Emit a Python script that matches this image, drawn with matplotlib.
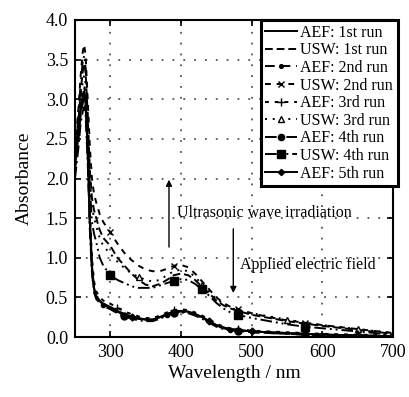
import matplotlib
matplotlib.use("Agg")
import matplotlib.pyplot as plt

plt.rcParams['font.family'] = ['Liberation Serif', 'DejaVu Serif']

wl = [250, 255, 258, 261, 263, 265, 268, 271, 274, 277, 280, 285, 290, 300, 310, 320, 330, 340,
      350, 360, 370, 380, 390, 400, 410, 420, 430, 440, 450, 460, 470, 480, 500, 525, 550, 575,
      600, 650, 700]

aef1 = [2.2, 2.6, 2.9, 3.05, 3.1, 3.0, 2.4, 1.5, 0.9, 0.62, 0.52, 0.46, 0.42, 0.38, 0.33, 0.29, 0.26, 0.24,
        0.22, 0.22, 0.25, 0.29, 0.32, 0.33, 0.32, 0.29, 0.25, 0.20, 0.15, 0.12, 0.10, 0.09, 0.07, 0.06, 0.05, 0.04,
        0.03, 0.02, 0.01]
usw1 = [2.3, 2.75, 3.1, 3.35, 3.45, 3.35, 2.8, 2.1, 1.75, 1.6, 1.5, 1.35, 1.25, 1.15, 1.0, 0.9, 0.8, 0.72,
        0.66, 0.64, 0.67, 0.72, 0.78, 0.80, 0.78, 0.72, 0.63, 0.55, 0.46, 0.40, 0.36, 0.33, 0.28, 0.24, 0.20, 0.17,
        0.14, 0.09, 0.04]
aef2 = [2.1, 2.5, 2.8, 2.95, 3.0, 2.9, 2.3, 1.4, 0.85, 0.6, 0.5, 0.45, 0.41, 0.37, 0.32, 0.28, 0.25, 0.23,
        0.21, 0.21, 0.24, 0.28, 0.31, 0.32, 0.31, 0.28, 0.24, 0.19, 0.14, 0.11, 0.09, 0.08, 0.06, 0.05, 0.04, 0.03,
        0.03, 0.02, 0.01]
usw2 = [2.4, 2.9, 3.3, 3.6, 3.69, 3.55, 3.0, 2.4, 2.0, 1.8, 1.7, 1.55, 1.45, 1.32, 1.18, 1.06, 0.97, 0.90,
        0.85, 0.83, 0.83, 0.86, 0.90, 0.91, 0.88, 0.80, 0.70, 0.60, 0.50, 0.43, 0.38, 0.35, 0.30, 0.25, 0.21, 0.18,
        0.15, 0.10, 0.05]
aef3 = [2.3, 2.7, 3.0, 3.12, 3.15, 3.05, 2.5, 1.6, 1.0, 0.7, 0.58, 0.5, 0.46, 0.42, 0.37, 0.32, 0.29, 0.26,
        0.24, 0.24, 0.27, 0.31, 0.34, 0.35, 0.34, 0.31, 0.27, 0.22, 0.17, 0.13, 0.11, 0.10, 0.08, 0.07, 0.06, 0.05,
        0.04, 0.03, 0.02]
usw3 = [2.2, 2.65, 3.0, 3.22, 3.3, 3.2, 2.7, 2.0, 1.65, 1.5, 1.4, 1.25, 1.15, 1.05, 0.95, 0.87, 0.80, 0.76,
        0.72, 0.70, 0.72, 0.78, 0.83, 0.85, 0.83, 0.76, 0.66, 0.57, 0.48, 0.42, 0.37, 0.34, 0.30, 0.26, 0.22, 0.18,
        0.15, 0.10, 0.05]
aef4 = [2.0, 2.4, 2.7, 2.85, 2.9, 2.8, 2.2, 1.35, 0.8, 0.56, 0.48, 0.43, 0.39, 0.35, 0.30, 0.26, 0.23, 0.21,
        0.20, 0.20, 0.23, 0.27, 0.30, 0.31, 0.30, 0.27, 0.23, 0.18, 0.13, 0.10, 0.08, 0.08, 0.06, 0.05, 0.04, 0.03,
        0.02, 0.02, 0.01]
usw4 = [2.3, 2.8, 3.2, 3.48, 3.55, 3.4, 2.7, 1.9, 1.45, 1.3, 1.2, 1.0, 0.9, 0.78, 0.72, 0.68, 0.64, 0.62,
        0.62, 0.62, 0.65, 0.68, 0.71, 0.73, 0.72, 0.67, 0.60, 0.52, 0.43, 0.36, 0.31, 0.28, 0.24, 0.20, 0.16, 0.13,
        0.11, 0.07, 0.03]
aef5 = [2.15, 2.55, 2.85, 3.0, 3.05, 2.95, 2.35, 1.45, 0.88, 0.6, 0.5, 0.45, 0.41, 0.37, 0.32, 0.28, 0.25, 0.23,
        0.22, 0.22, 0.25, 0.29, 0.32, 0.33, 0.32, 0.29, 0.25, 0.20, 0.15, 0.12, 0.10, 0.09, 0.07, 0.06, 0.05, 0.04,
        0.03, 0.02, 0.01]

labels = ["AEF: 1st run", "USW: 1st run", "AEF: 2nd run", "USW: 2nd run", "AEF: 3rd run",
          "USW: 3rd run", "AEF: 4th run", "USW: 4th run", "AEF: 5th run"]
series = [aef1, usw1, aef2, usw2, aef3, usw3, aef4, usw4, aef5]

styles = [
    dict(ls='-', marker=None),
    dict(ls=(0, (4, 2)), marker=None),
    dict(ls=(0, (5, 3)), marker='o', ms=3, markevery=[12, 21, 30, 36]),
    dict(ls=(0, (3, 3)), marker='x', ms=5, markevery=[13, 22, 31, 35]),
    dict(ls=(0, (2, 3)), marker='+', ms=6, markevery=[14, 22, 31, 35]),
    dict(ls=(0, (1, 3)), marker='^', ms=5, mfc='white', markevery=[17, 26, 34, 37]),
    dict(ls=(0, (6, 2, 1, 2)), marker='o', ms=5, markevery=[15, 22, 31, 35]),
    dict(ls=(0, (6, 2, 1, 2, 1, 2)), marker='s', ms=6, markevery=[13, 22, 26, 31, 35]),
    dict(ls='-', marker='D', ms=3.5, markevery=[16, 27, 32, 37]),
]

fig = plt.figure(figsize=(4.10, 3.97), dpi=100)
ax = fig.add_axes([75/410, 1 - 337/397, 318/410, 317/397])

for y, lab, st in zip(series, labels, styles):
    ax.plot(wl, y, color='black', lw=1.4, label=lab, **st)

ax.set_xlim(250, 700)
ax.set_ylim(0, 4.0)
ax.set_xticks([300, 400, 500, 600, 700])
ax.set_yticks([0.0, 0.5, 1.0, 1.5, 2.0, 2.5, 3.0, 3.5, 4.0])
ax.set_yticklabels(["0.0", "0.5", "1.0", "1.5", "2.0", "2.5", "3.0", "3.5", "4.0"])
ax.tick_params(direction='in', top=True, right=True, labelsize=13, length=4, width=1.2, pad=5)
for s in ax.spines.values():
    s.set_linewidth(1.5)
ax.grid(True, color='#555555', ls=(0, (1, 5)), lw=1.3)

ax.set_xlabel("Wavelength / nm", fontsize=14, labelpad=3)
ax.set_ylabel("Absorbance", fontsize=14, labelpad=9)

ax.annotate("", xy=(383, 2.02), xytext=(383, 1.1),
            arrowprops=dict(arrowstyle='-|>', color='black', lw=1.0, mutation_scale=9))
ax.text(394, 1.57, "Ultrasonic wave irradiation", fontsize=11.5, va='center', ha='left')
ax.annotate("", xy=(474, 0.52), xytext=(474, 1.4),
            arrowprops=dict(arrowstyle='-|>', color='black', lw=1.0, mutation_scale=9))
ax.text(483, 0.91, "Applied electric field", fontsize=11.5, va='center', ha='left')

leg = ax.legend(loc='upper right', bbox_to_anchor=(398/410, 1 - 20/397),
                bbox_transform=fig.transFigure, fontsize=11.5, frameon=True,
                fancybox=False, edgecolor='black', framealpha=1, borderaxespad=0,
                handlelength=2.0, handletextpad=0.2, labelspacing=0.1,
                borderpad=0.3, markerscale=0.9)
leg.get_frame().set_linewidth(2.2)

fig.savefig("out.png", dpi=100)
